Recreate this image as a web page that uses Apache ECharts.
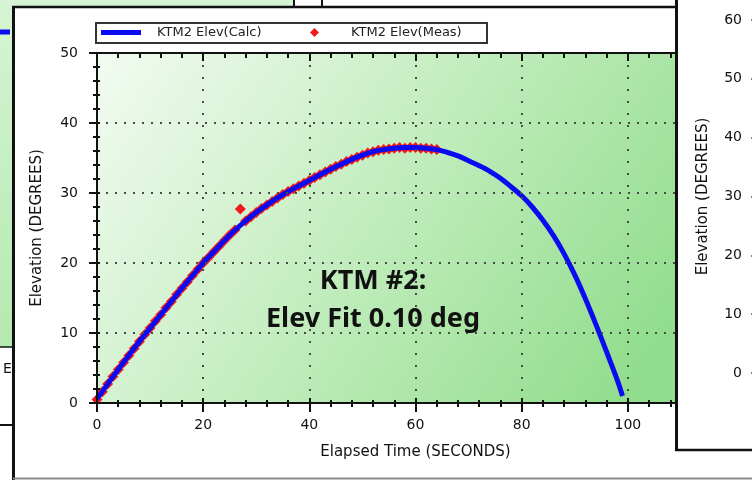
<!DOCTYPE html>
<html>
<head>
<meta charset="utf-8">
<script src="https://cdn.jsdelivr.net/npm/echarts@6/dist/echarts.min.js"></script>
<style>
html, body { margin: 0; padding: 0; background: #fff; }
#chart { width: 752px; height: 480px; }
</style>
</head>
<body>
<div id="chart"></div>
<script>
// elapsed time (s) / elevation (deg)
const calcTime = [0, 2, 4, 6, 8, 10, 12, 14, 16, 18, 20, 22, 24, 26, 28, 30, 32, 34, 36, 38,
  40, 42, 44, 46, 48, 50, 52, 54, 56, 58, 60, 62, 64, 66, 68, 70, 72, 74, 76, 78,
  80, 82, 84, 86, 88, 90, 92, 94, 96, 98, 99]
const calcElev = [0.6, 2.7, 4.8, 6.8, 8.8, 10.7, 12.6, 14.5, 16.4, 18.2,
  20.0, 21.6, 23.2, 24.7, 26.0, 27.2, 28.3, 29.3, 30.2, 31.0,
  31.8, 32.6, 33.4, 34.1, 34.8, 35.4, 35.9, 36.2, 36.4, 36.5,
  36.5, 36.4, 36.2, 35.8, 35.3, 34.6, 33.9, 33.1, 32.1, 30.9,
  29.6, 28.0, 26.1, 23.9, 21.3, 18.3, 14.9, 11.2, 7.3, 3.3, 1.0]

const measTime = [0, 1, 2, 3, 4, 5, 6, 7, 8, 9, 10, 11, 12, 13, 14, 15, 16, 17, 18, 19,
  20, 21, 22, 23, 24, 25, 26, 27, 28, 29, 30, 31, 32, 33, 34, 35, 36, 37, 38, 39,
  40, 41, 42, 43, 44, 45, 46, 47, 48, 49, 50, 51, 52, 53, 54, 55, 56, 57, 58, 59,
  60, 61, 62, 63, 64]
const measElev = [0.5, 1.6, 2.7, 3.8, 4.8, 5.8, 6.8, 7.8, 8.8, 9.8,
  10.7, 11.7, 12.6, 13.6, 14.5, 15.5, 16.4, 17.3, 18.2, 19.1,
  20.0, 20.8, 21.6, 22.4, 23.2, 24.0, 24.7, 27.7, 26.0, 26.6,
  27.2, 27.8, 28.3, 28.8, 29.3, 29.8, 30.2, 30.6, 31.0, 31.4,
  31.8, 32.2, 32.6, 33.0, 33.4, 33.8, 34.1, 34.5, 34.8, 35.1,
  35.4, 35.7, 35.9, 36.1, 36.2, 36.3, 36.4, 36.5, 36.4, 36.5,
  36.5, 36.4, 36.4, 36.3, 36.2]

const FONT = 'DejaVu Sans'
const INK = '#111'
const BLUE = '#0b0bf2'
const RED = '#f01818'

const chart = echarts.init(document.getElementById('chart'))

const plotFill = new echarts.graphic.LinearGradient(0, 0, 0.8, 1, [
  { offset: 0, color: '#f3fbf2' },
  { offset: 0.4, color: '#cdf0c9' },
  { offset: 1, color: '#93de8e' }
])
const sideFill = new echarts.graphic.LinearGradient(0, 0, 0, 1, [
  { offset: 0, color: '#d6f4d4' },
  { offset: 1, color: '#b4e9b0' }
])

const hline = (x1, x2, y, w, c, z) => ({
  type: 'line', z: z, silent: true,
  shape: { x1: x1, y1: y, x2: x2, y2: y },
  style: { stroke: c, lineWidth: w }
})
const vline = (x, y1, y2, w, c, z) => ({
  type: 'line', z: z, silent: true,
  shape: { x1: x, y1: y1, x2: x, y2: y2 },
  style: { stroke: c, lineWidth: w }
})

// tick settings shared by the stacked axes
const tick = (inside, len) => ({ show: true, inside: inside, length: len, lineStyle: { color: INK, width: 2 } })
const minor = (len) => ({ show: true, splitNumber: 5, length: len, lineStyle: { color: INK, width: 2 } })

let option = {
  backgroundColor: '#fff',
  animation: false,
  textStyle: { fontFamily: FONT },
  grid: [
    { left: 97, top: 53, right: 18, bottom: 77, show: true, backgroundColor: plotFill, borderWidth: 0 },
    { left: 755, top: 20, width: 100, bottom: 107, show: false }
  ],
  legend: [
    {
      data: ['KTM2 Elev(Calc)'],
      left: 101, top: 26, padding: 0, z: 20,
      icon: 'rect', itemWidth: 40, itemHeight: 5,
      textStyle: { fontFamily: FONT, fontSize: 13, color: '#222', padding: [0, 0, 0, 11] }
    },
    {
      data: ['KTM2 Elev(Meas)'],
      left: 310, top: 26, padding: 0, z: 20,
      icon: 'diamond', itemWidth: 9, itemHeight: 9,
      itemStyle: { opacity: 1 },
      textStyle: { fontFamily: FONT, fontSize: 13, color: '#222', padding: [0, 0, 0, 27] }
    }
  ],
  xAxis: [
    {
      gridIndex: 0, type: 'value', min: 0, max: 120, interval: 20, position: 'bottom', z: 5,
      axisLine: { show: true, onZero: false, lineStyle: { color: INK, width: 2 } },
      axisTick: tick(false, 9),
      minorTick: minor(4),
      axisLabel: { margin: 15, color: INK, fontSize: 14, fontFamily: FONT },
      splitLine: { show: true, showMinLine: false, lineStyle: { color: '#4a4a4a', width: 2, type: [2, 10] } },
      name: 'Elapsed Time (SECONDS)', nameLocation: 'middle', nameGap: 42,
      nameTextStyle: { color: INK, fontSize: 15, fontFamily: FONT }
    },
    {
      gridIndex: 0, type: 'value', min: 0, max: 120, interval: 20, position: 'bottom', z: 5,
      axisLine: { show: true, onZero: false, lineStyle: { color: INK, width: 2 } },
      axisTick: tick(true, 5),
      minorTick: minor(3),
      axisLabel: { show: false }, splitLine: { show: false }
    },
    {
      gridIndex: 0, type: 'value', min: 0, max: 120, interval: 20, position: 'top', z: 5,
      axisLine: { show: true, onZero: false, lineStyle: { color: INK, width: 2 } },
      axisTick: tick(true, 8),
      minorTick: minor(5),
      axisLabel: { show: false }, splitLine: { show: false }
    },
    { gridIndex: 1, type: 'value', min: 0, max: 1, show: false }
  ],
  yAxis: [
    {
      gridIndex: 0, type: 'value', min: 0, max: 50, interval: 10, position: 'left', z: 5,
      axisLine: { show: true, onZero: false, lineStyle: { color: INK, width: 2 } },
      axisTick: tick(false, 8),
      minorTick: minor(4),
      axisLabel: { margin: 19, color: INK, fontSize: 14, fontFamily: FONT },
      splitLine: { show: true, showMinLine: false, showMaxLine: false, lineStyle: { color: '#4a4a4a', width: 2, type: [2, 7] } },
      name: 'Elevation (DEGREES)', nameLocation: 'middle', nameGap: 52,
      nameTextStyle: { color: INK, fontSize: 15, fontFamily: FONT }
    },
    {
      gridIndex: 0, type: 'value', min: 0, max: 50, interval: 10, position: 'left', z: 5,
      axisLine: { show: true, onZero: false, lineStyle: { color: INK, width: 2 } },
      axisTick: tick(true, 3),
      minorTick: minor(3),
      axisLabel: { show: false }, splitLine: { show: false }
    },
    {
      // the next window's axis, peeking in on the right
      gridIndex: 1, type: 'value', min: 0, max: 60, interval: 10, z: 60,
      axisLine: { show: false },
      axisTick: { show: true, length: 4, lineStyle: { color: '#555', width: 1.5 } },
      axisLabel: { margin: 13, color: INK, fontSize: 14, fontFamily: FONT },
      splitLine: { show: false },
      name: 'Elevation (DEGREES)', nameLocation: 'middle', nameGap: 44,
      nameTextStyle: { color: INK, fontSize: 15, fontFamily: FONT }
    }
  ],
  series: [
    {
      name: 'KTM2 Elev(Meas)', type: 'scatter', xAxisIndex: 0, yAxisIndex: 0, z: 2,
      symbol: 'diamond', symbolSize: 11,
      itemStyle: { color: RED, opacity: 1 },
      data: measTime.map((t, i) => [t, measElev[i]])
    },
    {
      name: 'KTM2 Elev(Calc)', type: 'line', xAxisIndex: 0, yAxisIndex: 0, z: 3,
      showSymbol: false, smooth: 0.35,
      lineStyle: { color: BLUE, width: 5 },
      itemStyle: { color: BLUE },
      data: calcTime.map((t, i) => [t, calcElev[i]])
    }
  ],
  graphic: [
    // window behind on the left
    { type: 'rect', z: 5, silent: true, shape: { x: 0, y: 0, width: 13, height: 347 }, style: { fill: sideFill } },
    { type: 'rect', z: 5, silent: true, shape: { x: 13, y: 0, width: 280, height: 7 }, style: { fill: '#d6f4d4' } },
    hline(0, 10, 32, 5, BLUE, 6),
    hline(0, 13, 347, 1.5, INK, 6),
    hline(0, 13, 425, 2, INK, 6),
    { type: 'text', z: 6, silent: true, style: { text: 'E', x: 3, y: 362, font: '14px "DejaVu Sans"', fill: INK } },
    vline(294, 0, 7, 2, INK, 6),
    vline(322, 0, 7, 2, INK, 6),
    // frame of this window
    vline(13.5, 6, 480, 3, INK, 51),
    hline(12, 676, 7, 2.5, INK, 51),
    hline(13, 752, 478.5, 2, '#8a8a8a', 51),
    // window in front on the right
    { type: 'rect', z: 50, silent: true, shape: { x: 676, y: -5, width: 80, height: 455 }, style: { fill: '#fff' } },
    vline(676.5, 0, 451, 3, INK, 52),
    hline(675, 752, 450, 2.5, INK, 52),
    // legend frame
    { type: 'rect', z: 10, silent: true, shape: { x: 96, y: 23, width: 391, height: 20 }, style: { fill: '#fff', stroke: '#333', lineWidth: 2 } },
    // fit note
    {
      type: 'text', z: 30, silent: true,
      style: {
        text: 'KTM #2:\nElev Fit 0.10 deg', x: 373, y: 262, align: 'center', verticalAlign: 'top',
        font: 'bold 27px "Noto Sans"', lineHeight: 38, fill: '#111'
      }
    }
  ]
}

chart.setOption(option)
</script>
</body>
</html>
